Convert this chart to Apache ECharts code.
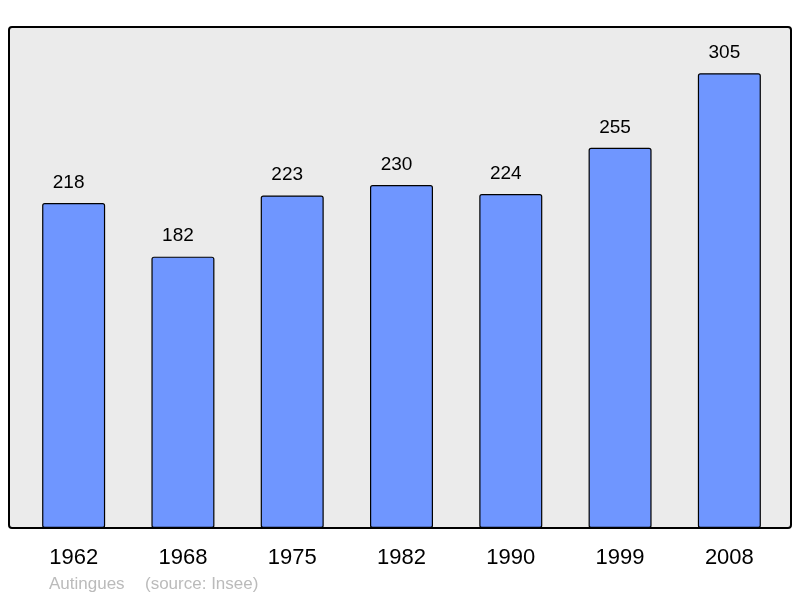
<!DOCTYPE html>
<html><head><meta charset="utf-8">
<script src="https://cdn.jsdelivr.net/npm/echarts@6/dist/echarts.min.js"></script>
<style>html,body{margin:0;padding:0;background:#fff}#c{width:800px;height:598px}</style>
</head><body><div id="c"></div>
<script>
const years = ['1962','1968','1975','1982','1990','1999','2008'];
const population = [218, 182, 223, 230, 224, 255, 305];
const footerName = 'Autingues';
const footerSource = '(source: Insee)';

const chart = echarts.init(document.getElementById('c'), null, {renderer:'canvas'});
chart.setOption({
  animation:false,
  backgroundColor:'#ffffff',
  graphic:[
    {type:'rect', z:-10, shape:{x:9,y:27,width:782,height:501,r:3},
     style:{fill:'#ebebeb', stroke:'#000', lineWidth:2}},
    {type:'text', x:49, y:584, style:{text:footerName, fill:'#bbbbbb', verticalAlign:'middle', font:'17px "Liberation Sans", Arial, sans-serif'}},
    {type:'text', x:145, y:584, style:{text:footerSource, fill:'#bbbbbb', verticalAlign:'middle', font:'17px "Liberation Sans", Arial, sans-serif'}}
  ],
  grid:{left:19, top:27, width:765, height:501},
  xAxis:{type:'category', data:years,
    axisLine:{show:false}, axisTick:{show:false},
    axisLabel:{fontSize:22, color:'#000', margin:18.5, fontFamily:'Liberation Sans'}},
  yAxis:{type:'value', min:0, max:336, show:false, splitLine:{show:false}},
  series:[{type:'bar', data:population, barWidth:63,
    itemStyle:{color:'#6f96ff', borderColor:'#000', borderWidth:1.2, borderRadius:2},
    label:{show:true, position:'top', distance:11, offset:[-5,0], fontSize:19, color:'#000', fontFamily:'Liberation Sans'}}]
});
</script></body></html>
